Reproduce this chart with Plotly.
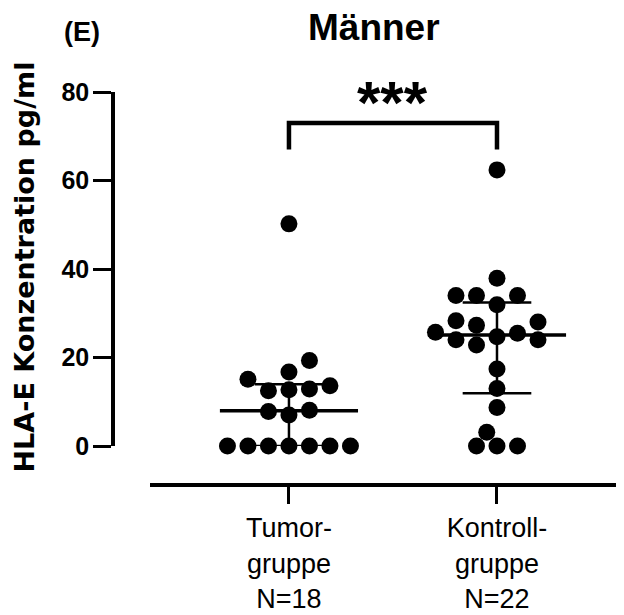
import numpy as np
import plotly.graph_objects as go

# ---------------- data ----------------
group_labels = ["Tumor-<br>gruppe<br>N=18", "Kontroll-<br>gruppe<br>N=22"]
tumor_values = [0, 0, 0, 0, 0, 0, 0, 7.0, 7.8, 8.1, 12.7, 12.5, 12.9, 15.1, 13.6, 16.7, 19.3, 50.2]
kontroll_values = [0, 0, 0, 3.1, 8.7, 13.0, 17.4, 24.7, 22.8, 25.5, 24.0, 24.0, 25.7,
                   27.3, 28.0, 28.3, 31.9, 34.0, 34.0, 34.0, 37.9, 62.4]
y_tick_values = [0, 20, 40, 60, 80]
significance = "***"

# ---------------- layout constants ----------------
W, H = 624, 615
OFF = 8  # page body margin of the written html


def xp(px):
    return (px - OFF) / W


def yp(py):
    return 1 - (py - OFF) / H


X_DOM = [xp(150), 1.0]
Y_DOM = [yp(446), yp(92)]
X_RANGE = [-0.668, 1.649]
Y_RANGE = [0, 80]
FONT = "Liberation Sans, Arial, sans-serif"
MARKER_D = 17
PITCH_PX = 20.5
COLLIDE_PX = 16.8
WINDOW = 5.0
MEDIAN_HALF = 0.332
IQR_HALF = 0.165
BRACKET_LOW, BRACKET_HIGH = 67, 73
STAR_Y = 77.7

px_per_x = (X_DOM[1] - X_DOM[0]) * W / (X_RANGE[1] - X_RANGE[0])
px_per_y = (Y_DOM[1] - Y_DOM[0]) * H / (Y_RANGE[1] - Y_RANGE[0])


def swarm(values):
    """Greedy beeswarm: returns slot offsets (in pitch units) for each value."""
    placed = []

    def collides(s, v):
        for os_, ov in placed:
            dx = (s - os_) * PITCH_PX
            dy = (v - ov) * px_per_y
            if (dx * dx + dy * dy) ** 0.5 < COLLIDE_PX:
                return True
        return False

    offs = []
    for v in values:
        chosen = None
        m = 0
        while chosen is None:
            if m == 0:
                if not collides(0.0, v):
                    chosen = 0.0
            else:
                a = m * 0.5
                free = [s for s in (-a, a) if not collides(s, v)]
                if len(free) == 1:
                    chosen = free[0]
                elif len(free) == 2:
                    left = sum(1 for os_, ov in placed if os_ < 0 and abs(ov - v) <= WINDOW)
                    right = sum(1 for os_, ov in placed if os_ > 0 and abs(ov - v) <= WINDOW)
                    chosen = a if right < left else -a
            m += 1
        placed.append((chosen, v))
        offs.append(chosen)
    return np.array(offs)


def quartiles(values):
    arr = np.asarray(values, dtype=float)
    return (np.percentile(arr, 25, method="weibull"),
            np.median(arr),
            np.percentile(arr, 75, method="weibull"))


fig = go.Figure()

for gi, vals in enumerate([tumor_values, kontroll_values]):
    q1, med, q3 = quartiles(vals)
    c = gi
    fig.add_trace(go.Scatter(
        x=[c - IQR_HALF, c + IQR_HALF, None, c - IQR_HALF, c + IQR_HALF, None, c, c],
        y=[q1, q1, None, q3, q3, None, q1, q3],
        mode="lines", line=dict(color="black", width=2.5),
        cliponaxis=False, showlegend=False, hoverinfo="skip"))
    fig.add_trace(go.Scatter(
        x=[c - MEDIAN_HALF, c + MEDIAN_HALF], y=[med, med],
        mode="lines", line=dict(color="black", width=3.5),
        cliponaxis=False, showlegend=False, hoverinfo="skip"))
    offs = swarm(vals)
    xs = c + offs * PITCH_PX / px_per_x
    fig.add_trace(go.Scatter(
        x=xs, y=vals, mode="markers",
        marker=dict(size=MARKER_D, color="black", line=dict(width=0)),
        cliponaxis=False, showlegend=False))

# significance bracket
fig.add_shape(type="path",
              path=f"M 0,{BRACKET_LOW} L 0,{BRACKET_HIGH} L 1,{BRACKET_HIGH} L 1,{BRACKET_LOW}",
              xref="x", yref="y", line=dict(color="black", width=4.5))

fig.add_annotation(x=0.5, y=STAR_Y, xref="x", yref="y", text=significance, showarrow=False,
                   xanchor="center", yanchor="middle",
                   font=dict(family=FONT, size=60, color="black", weight="bold"))

fig.add_annotation(x=xp(374), y=yp(27.2), xref="paper", yref="paper", text="Männer",
                   showarrow=False, xanchor="center", yanchor="middle",
                   font=dict(family=FONT, size=37, color="black", weight="bold"))

fig.add_annotation(x=xp(62), y=yp(31.6), xref="paper", yref="paper", text="(E)",
                   showarrow=False, xanchor="left", yanchor="middle",
                   font=dict(family=FONT, size=27, color="black", weight="bold"))

fig.add_annotation(x=xp(24), y=yp(267.5), xref="paper", yref="paper",
                   text="HLA-E Konzentration pg/ml", textangle=-90,
                   showarrow=False, xanchor="center", yanchor="middle",
                   font=dict(family="DejaVu Sans, sans-serif", size=27, color="black", weight="bold"))

fig.update_layout(
    template="none",
    width=W, height=H,
    margin=dict(l=0, r=0, t=0, b=0, pad=0, autoexpand=False),
    paper_bgcolor="white", plot_bgcolor="white",
    showlegend=False,
    xaxis=dict(domain=X_DOM, range=X_RANGE, anchor="free", position=yp(485),
               automargin=False,
               showline=True, linecolor="black", linewidth=4,
               ticks="outside", ticklen=17, tickwidth=3, tickcolor="black",
               tickvals=[0, 1], ticktext=group_labels,
               tickfont=dict(family=FONT, size=27, color="black"),
               ticklabelstandoff=1,
               showgrid=False, zeroline=False, fixedrange=True),
    yaxis=dict(domain=Y_DOM, range=Y_RANGE, anchor="free", position=xp(113),
               automargin=False,
               showline=True, linecolor="black", linewidth=3.5,
               ticks="outside", ticklen=18, tickwidth=3, tickcolor="black",
               tickvals=y_tick_values, ticktext=[str(v) for v in y_tick_values],
               tickfont=dict(family=FONT, size=25, color="black", weight="bold"),
               ticklabelstandoff=-1,
               showgrid=False, zeroline=False, fixedrange=True),
)

fig.write_html("out.html")
